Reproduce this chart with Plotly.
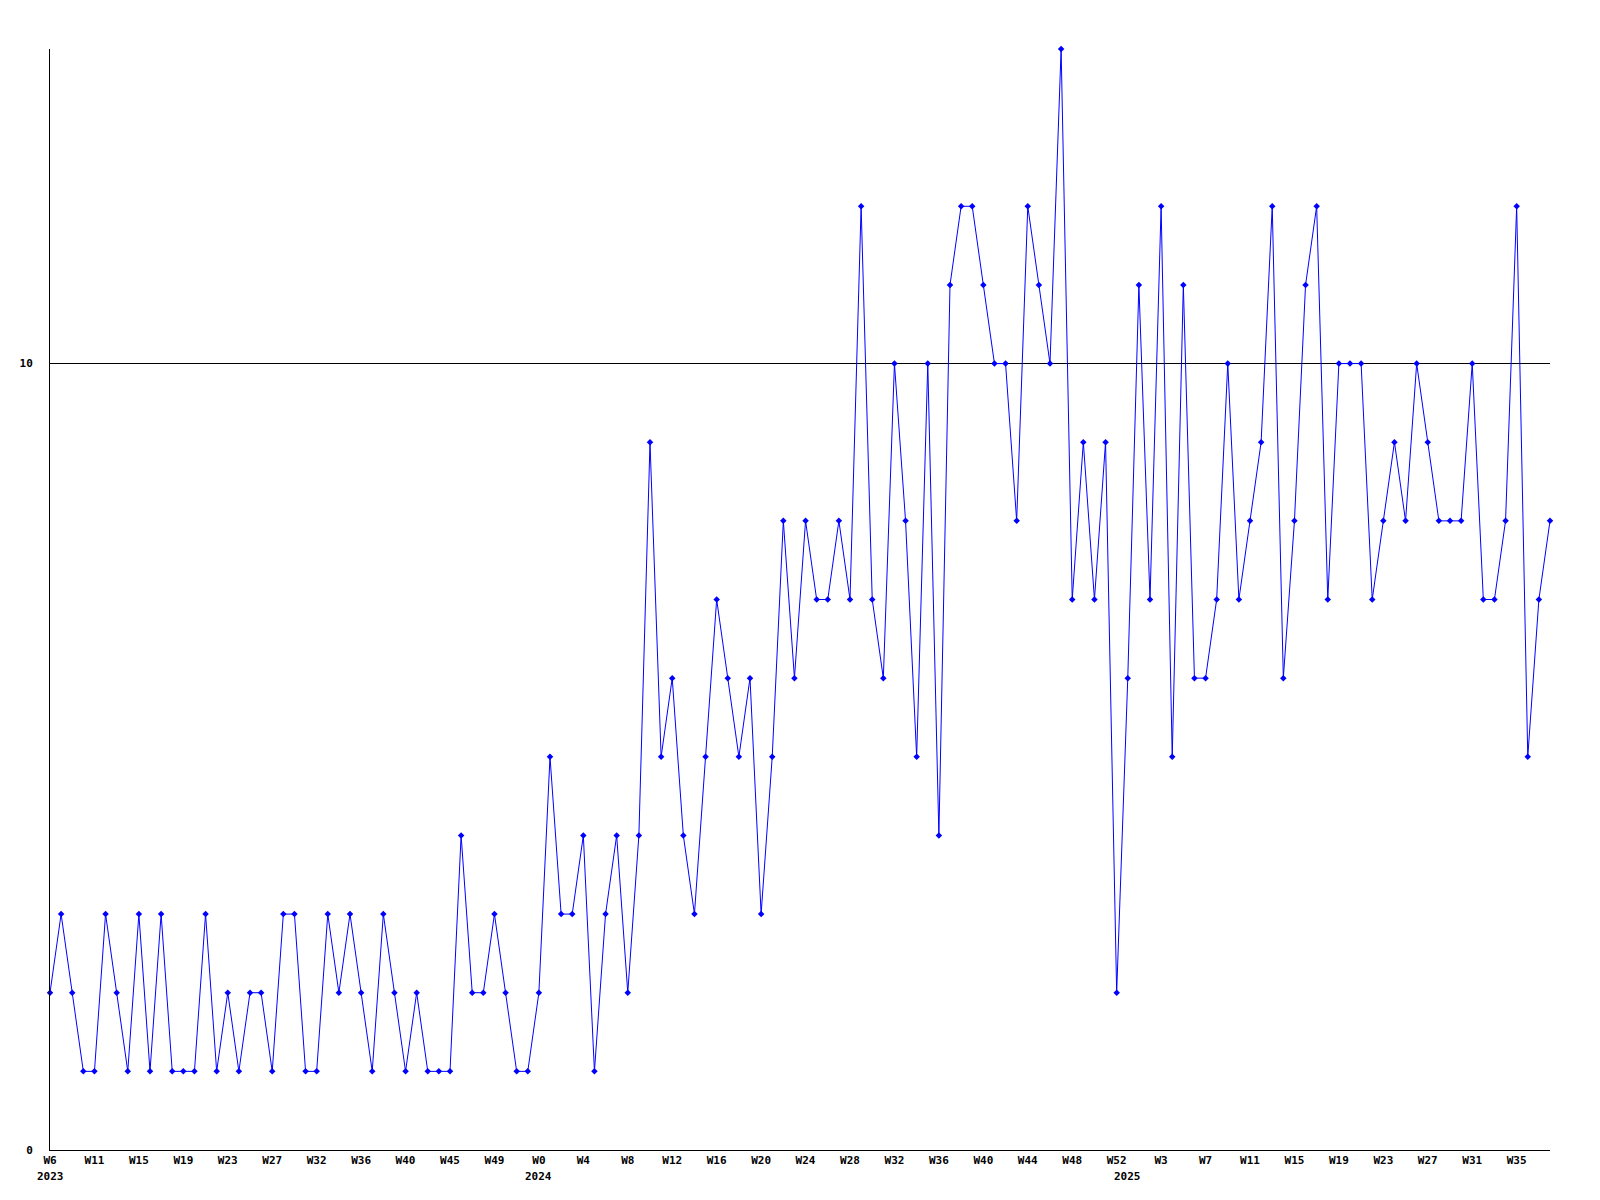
import plotly.graph_objects as go

# Weekly values (index 0 = W6 2023)
values = [
    2, 3, 2, 1, 1, 3, 2, 1, 3, 1,
    3, 1, 1, 1, 3, 1, 2, 1, 2, 2,
    1, 3, 3, 1, 1, 3, 2, 3, 2, 1,
    3, 2, 1, 2, 1, 1, 1, 4, 2, 2,
    3, 2, 1, 1, 2, 5, 3, 3, 4, 1,
    3, 4, 2, 4, 9, 5, 6, 4, 3, 5,
    7, 6, 5, 6, 3, 5, 8, 6, 8, 7,
    7, 8, 7, 12, 7, 6, 10, 8, 5, 10,
    4, 11, 12, 12, 11, 10, 10, 8, 12, 11,
    10, 14, 7, 9, 7, 9, 2, 6, 11, 7,
    12, 5, 11, 6, 6, 7, 10, 7, 8, 9,
    12, 6, 8, 11, 12, 7, 10, 10, 10, 7,
    8, 9, 8, 10, 9, 8, 8, 8, 10, 7,
    7, 8, 12, 5, 7, 8,
]
weeks = list(range(len(values)))

tick_labels = ["W6", "W11", "W15", "W19", "W23", "W27", "W32", "W36", "W40",
               "W45", "W49", "W0", "W4", "W8", "W12", "W16", "W20", "W24",
               "W28", "W32", "W36", "W40", "W44", "W48", "W52", "W3", "W7",
               "W11", "W15", "W19", "W23", "W27", "W31", "W35"]
tick_positions = list(range(0, 4 * len(tick_labels), 4))

year_labels = ["2023", "2024", "2025"]
year_positions = [0, 44, 97]

y_ticks = [0, 10]

FONT = dict(family="DejaVu Sans Mono", size=11, color="black", weight="bold")

fig = go.Figure()
fig.add_trace(go.Scatter(
    x=weeks, y=values, mode="lines+markers",
    line=dict(color="#0000ff", width=1),
    marker=dict(symbol="diamond", size=5, color="#0000ff"),
    cliponaxis=False, showlegend=False,
))

annotations = []
for lbl, pos in zip(year_labels, year_positions):
    annotations.append(dict(
        x=pos, xref="x", y=0, yref="paper", text=lbl, showarrow=False,
        xanchor="center", yanchor="middle", yshift=-26, font=FONT,
    ))

fig.update_layout(
    width=1600, height=1200,
    margin=dict(l=42, r=58, t=41, b=58, autoexpand=False),
    paper_bgcolor="white", plot_bgcolor="white",
    font=FONT,
    annotations=annotations,
    xaxis=dict(
        range=[0, len(values) - 1], tickmode="array",
        tickvals=tick_positions, ticktext=tick_labels,
        showgrid=False, zeroline=False, showline=True,
        linecolor="black", linewidth=1, ticks="", tickfont=FONT,
        automargin=False,
    ),
    yaxis=dict(
        range=[0, 14], tickmode="array", tickvals=y_ticks,
        ticktext=[str(v) for v in y_ticks],
        showgrid=True, gridcolor="black", gridwidth=1,
        zeroline=False, showline=True, linecolor="black", linewidth=1,
        ticks="", tickfont=FONT, ticklabelstandoff=14, automargin=False,
    ),
)

fig.write_html("out.html")
